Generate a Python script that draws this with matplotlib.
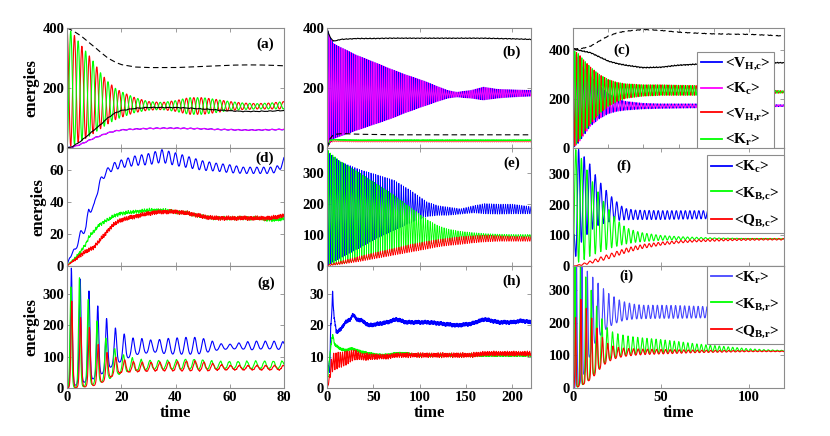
import numpy as np
import matplotlib
matplotlib.use("Agg")
import matplotlib.pyplot as plt

plt.rcParams['font.family'] = ['Liberation Serif', 'DejaVu Serif']
plt.rcParams['font.weight'] = 'bold'
plt.rcParams['mathtext.fontset'] = 'custom'
plt.rcParams['mathtext.rm'] = 'Liberation Serif:bold'
plt.rcParams['mathtext.it'] = 'Liberation Serif:bold'
plt.rcParams['mathtext.bf'] = 'Liberation Serif:bold'

BLUE, MAG, RED, GREEN, BLACK, LBLUE = '#0000ff', '#ff00ff', '#ff0000', '#00ff00', '#000000', '#4646ff'

# ---------------- data (envelopes / levels) ----------------
# (a)
A_T = [0, 2, 5, 8, 10, 12, 15, 18, 20, 25, 30, 35, 40, 45, 50, 55, 60, 65, 70, 75, 80]
A_RG_UP = [400, 385, 345, 310, 285, 255, 222, 198, 188, 168, 155, 152, 158, 168, 168, 162, 155, 150, 148, 150, 155]
A_RG_LO = [0, 10, 22, 38, 50, 62, 80, 95, 102, 118, 126, 128, 122, 112, 112, 118, 125, 128, 130, 130, 130]
A_DASH = [400, 392, 375, 352, 338, 322, 300, 285, 278, 270, 268, 268, 268, 270, 272, 274, 276, 277, 277, 276, 274]
A_SOLID = [0, 5, 22, 45, 60, 75, 100, 118, 125, 132, 135, 135, 135, 133, 130, 127, 124, 122, 122, 123, 125]
A_BM = [0, 3, 12, 25, 33, 40, 50, 57, 60, 63, 65, 66, 66, 65, 64, 62, 61, 60, 60, 61, 62]
A_PERIOD = 2.75

# (b)
B_T = [0, 3, 7, 15, 32, 50, 68, 85, 104, 120, 130, 140, 155, 169, 183, 200, 220]
B_BM_UP = [400, 370, 348, 335, 309, 287, 264, 244, 224, 204, 192, 186, 192, 203, 196, 194, 192]
B_BM_LO = [0, 15, 31, 40, 59, 78, 97, 118, 139, 156, 166, 170, 166, 160, 166, 170, 173]
B_SOLID = [400, 370, 356, 362, 365, 365, 366, 366, 366, 366, 366, 366, 366, 366, 365, 364, 362]
B_DASH = [0, 30, 45, 48, 46, 45, 44, 44, 44, 44, 44, 44, 44, 44, 44, 44, 44]
B_GREEN = [0, 25, 28, 27, 26, 26, 26, 26, 26, 26, 26, 26, 26, 26, 26, 26, 26]
B_RED = [0, 20, 23, 23, 22, 22, 22, 22, 22, 22, 22, 22, 22, 22, 22, 22, 22]
B_PERIOD = 2.3

# (c)
C_T = [0, 3, 6, 10, 15, 20, 25, 30, 40, 50, 60, 70, 80, 90, 100, 110, 120]
C_RG_UP = [400, 385, 360, 330, 300, 280, 268, 262, 258, 258, 256, 255, 252, 248, 242, 237, 233]
C_RG_LO = [0, 25, 60, 100, 140, 170, 190, 203, 212, 215, 215, 215, 216, 218, 220, 222, 225]
C_BM_UP = [400, 370, 330, 295, 255, 222, 200, 190, 182, 180, 180, 180, 180, 179, 178, 177, 176]
C_BM_LO = [0, 20, 50, 90, 120, 140, 150, 155, 160, 162, 163, 164, 165, 166, 167, 168, 170]
C_DASH = [405, 405, 408, 416, 437, 457, 470, 477, 484, 480, 473, 469, 466, 465, 464, 461, 457]
C_SOLID = [405, 400, 395, 389, 372, 355, 345, 338, 328, 330, 338, 342, 346, 347, 348, 348, 348]
C_PERIOD = 2.0

# (d)
D_T = [0, 1, 3, 5, 7, 8, 10, 11, 12, 14, 16, 18, 20, 25, 30, 35, 40, 45, 50, 55, 60, 65, 70, 75, 78, 80]
D_BLUE = [0, 6, 10, 20, 24, 35, 37, 46, 52, 58, 61, 63, 64, 66, 67, 69, 67, 65, 63, 62, 61, 60, 60, 60, 61, 66]
D_BLUE_AMP = [0, 1, 1.5, 2, 2, 2, 2, 2, 2, 2, 2, 2.5, 2.5, 3, 3.5, 4, 4, 3.5, 3, 2.5, 2.5, 2, 2, 2, 2, 2]
D_GREEN = [0, 2, 5, 9, 14, 18, 22, 24, 26, 28, 30, 32, 33, 34, 35, 35, 34, 33, 31, 30, 30, 30, 30, 29, 29, 30]
D_RED = [0, 1.5, 4, 7, 9, 10, 12, 14, 16, 20, 24, 27, 29, 31, 33, 34, 34, 33, 31, 30, 30, 30, 30, 30, 31, 32]
D_PERIOD = 2.5

# (e)
E_T = [0, 2, 14, 36, 54, 72, 90, 108, 120, 130, 144, 158, 170, 185, 200, 220]
E_B_UP = [350, 365, 338, 311, 295, 278, 245, 207, 195, 191, 185, 195, 202, 200, 200, 192]
E_B_LO = [0, 5, 25, 60, 90, 115, 140, 160, 164, 164, 168, 172, 169, 168, 169, 169]
E_G_UP = [380, 370, 340, 300, 265, 230, 190, 150, 130, 120, 112, 108, 105, 103, 102, 102]
E_G_LO = [0, 3, 8, 22, 35, 48, 60, 70, 76, 80, 85, 88, 90, 90, 90, 90]
E_R_UP = [0, 5, 15, 32, 45, 57, 70, 80, 86, 90, 95, 98, 100, 98, 96, 95]
E_R_LO = [0, 1, 5, 15, 25, 35, 45, 55, 62, 66, 70, 75, 78, 80, 80, 80]
E_PERIOD = 2.5

# (f)
F_T = [0, 1, 3, 6, 9, 12, 15, 18, 21, 24, 27, 30, 35, 40, 50, 60, 70, 80, 90, 100, 110, 120]
F_B_UP = [60, 200, 383, 360, 340, 305, 277, 254, 232, 215, 198, 188, 183, 182, 181, 181, 181, 181, 181, 180, 178, 176]
F_B_LO = [0, 20, 60, 90, 110, 125, 135, 140, 145, 148, 150, 151, 152, 152, 152, 153, 154, 155, 156, 158, 162, 166]
F_G_UP = [385, 385, 370, 340, 300, 265, 235, 205, 180, 158, 140, 126, 115, 108, 100, 96, 94, 92, 91, 90, 90, 89]
F_G_LO = [0, 5, 12, 20, 30, 38, 45, 52, 58, 63, 68, 72, 77, 80, 84, 86, 87, 88, 88, 88, 88, 88]
F_R_UP = [0, 1, 4, 9, 15, 21, 28, 34, 40, 46, 52, 58, 65, 71, 78, 83, 86, 88, 89, 90, 90, 90]
F_R_LO = [0, 0, 1, 3, 7, 11, 15, 20, 25, 31, 37, 43, 51, 58, 68, 75, 79, 81, 83, 84, 85, 85]
F_PERIOD_T = [0, 20, 30, 120]
F_PERIOD = [3.2, 3.1, 2.6, 2.5]

# (g)
G_T = [0, 1.6, 4.9, 8.2, 11.3, 14.5, 17.8, 21, 24.3, 28, 32, 36, 40, 44, 48, 52, 56, 60, 64, 68, 72, 76, 80]
G_B_UP = [0, 383, 348, 309, 263, 223, 192, 173, 160, 158, 152, 158, 160, 162, 162, 155, 142, 140, 145, 150, 150, 150, 148]
G_B_LO = [0, 5, 14, 24, 35, 56, 77, 88, 105, 110, 115, 110, 108, 108, 108, 115, 122, 125, 125, 122, 125, 125, 122]
G_G_UP = [0, 375, 350, 275, 210, 157, 125, 105, 95, 90, 88, 88, 90, 92, 92, 88, 85, 85, 85, 86, 86, 86, 86]
G_G_LO = [0, 0, 2, 8, 15, 25, 40, 50, 55, 58, 60, 60, 60, 60, 60, 60, 62, 62, 62, 62, 62, 62, 62]
G_R_UP = [0, 280, 226, 194, 141, 115, 99, 90, 85, 82, 82, 82, 84, 86, 86, 80, 75, 72, 72, 72, 72, 72, 72]
G_R_LO = [0, 0, 2, 5, 10, 25, 45, 50, 52, 53, 55, 55, 55, 55, 55, 55, 58, 58, 58, 58, 58, 58, 58]
G_SHARP = [2.5, 2.5, 2.5, 2.3, 2.0, 1.8, 1.5, 1.2, 1.0, 0.8, 0.6, 0.5, 0.5, 0.5, 0.5, 0.5, 0.5, 0.5, 0.5, 0.5, 0.5, 0.5, 0.5]
G_PERIOD = 3.25

# (h)
H_T = [0, 1, 2, 3, 4, 5, 6, 7, 8, 10, 12, 15, 20, 25, 28, 32, 38, 45, 55, 65, 75, 85, 95, 110, 125, 140, 155, 170, 185, 200, 210, 220]
H_BLUE = [9, 8, 6, 5, 20, 23, 31, 25, 22, 18, 18, 19, 21, 22, 23.5, 22, 21.5, 20, 20.5, 21, 22, 21, 21, 21, 20.5, 20, 20.5, 22, 21, 21, 21.5, 21]
H_GREEN = [2, 4, 7, 10, 13, 15, 17, 16, 14, 13.5, 13, 12.5, 12, 12.5, 12.5, 12, 11.5, 11, 10.5, 10.5, 11, 11, 10.5, 10.5, 10.5, 10.5, 10.5, 10.5, 10.5, 10.5, 10.5, 10.5]
H_RED = [0.5, 1, 2, 4, 6, 7, 8, 8.5, 8.5, 8.5, 9, 9, 9.5, 10, 10.5, 10.5, 10, 10, 10, 10, 10.5, 10.5, 10.5, 10.5, 10.5, 10.5, 10.5, 11, 11, 11, 11, 11]
H_RED_AMP = [0, 0, 0.5, 1, 2, 2.5, 2.5, 2.5, 2.5, 2.5, 2.5, 2.3, 2, 1.8, 1.5, 1.2, 1, 0.8, 0.6, 0.5, 0.5, 0.5, 0.5, 0.5, 0.5, 0.5, 0.5, 0.5, 0.5, 0.5, 0.5, 0.5]
H_PERIOD = 2.4

# (i)
I_T = [0, 2, 5, 8, 11, 14, 17, 20, 23, 26, 30, 35, 40, 50, 60, 70, 80, 90, 100, 110, 120]
I_B_UP = [0, 380, 370, 358, 340, 322, 305, 290, 280, 270, 262, 256, 253, 253, 252, 250, 248, 245, 242, 238, 235]
I_B_LO = [0, 0, 20, 70, 120, 150, 170, 185, 195, 202, 208, 211, 212, 213, 213, 214, 215, 218, 222, 226, 230]
I_G_UP = [380, 380, 370, 330, 290, 240, 205, 180, 170, 165, 160, 156, 153, 148, 142, 135, 130, 125, 120, 117, 115]
I_G_LO = [0, 2, 8, 20, 35, 55, 72, 85, 92, 97, 100, 103, 105, 107, 109, 110, 111, 112, 112, 113, 113]
I_R_UP = [0, 300, 265, 240, 210, 180, 152, 135, 128, 124, 121, 120, 119, 118, 117, 116, 115, 115, 114, 114, 113]
I_R_LO = [0, 2, 8, 18, 30, 50, 68, 80, 88, 93, 97, 100, 102, 104, 106, 108, 109, 110, 111, 111, 111]
I_SHARP = [3, 3, 3, 2.5, 2, 1.5, 1.2, 1, 0.8, 0.6, 0.5, 0.4, 0.3, 0.3, 0.3, 0.3, 0.3, 0.3, 0.3, 0.3, 0.3]
I_PERIOD_T = [0, 25, 40, 120]
I_PERIOD = [3.1, 3.0, 2.6, 2.5]

LEG_C = [r'<V$_{\mathrm{H{,}c}}$>', r'<K$_{\mathrm{c}}$>', r'<V$_{\mathrm{H{,}r}}$>', r'<K$_{\mathrm{r}}$>']
LEG_F = [r'<K$_{\mathrm{c}}$>', r'<K$_{\mathrm{B{,}c}}$>', r'<Q$_{\mathrm{B{,}c}}$>']
LEG_I = [r'<K$_{\mathrm{r}}$>', r'<K$_{\mathrm{B{,}r}}$>', r'<Q$_{\mathrm{B{,}r}}$>']

# ---------------- helpers ----------------
def phase(t, per_t, per):
    p = np.interp(t, per_t, per)
    dt = np.diff(t, prepend=t[0])
    return 2 * np.pi * np.cumsum(dt / p)

def wave(ph, k):
    k = np.maximum(k, 1e-3)
    return (np.exp(k * (np.cos(ph) - 1)) - np.exp(-2 * k)) / (1 - np.exp(-2 * k))

def band(t, kt, up, lo, ph, shift=0.0, sharp=None):
    u = np.interp(t, kt, up)
    l = np.interp(t, kt, lo)
    k = 1e-3 if sharp is None else np.interp(t, kt, sharp)
    return l + (u - l) * wave(ph + shift, k)

def texture(t, s):
    return (0.5 * np.sin(7.31 * t + s) + 0.3 * np.sin(13.7 * t + 2.1 * s)
            + 0.2 * np.sin(23.3 * t + 3.7 * s))

# ---------------- figure ----------------
W, H = 830, 436
fig = plt.figure(figsize=(W / 100, H / 100), dpi=100)
cols = [(67, 284), (327, 531), (573, 784)]
rows = [(28, 148), (148, 266), (266, 388)]

def make_ax(r, c):
    x0, x1 = cols[c]
    y0, y1 = rows[r]
    ax = fig.add_axes([x0 / W, 1 - y1 / H, (x1 - x0) / W, (y1 - y0) / H])
    for s in ax.spines.values():
        s.set_color('#8c8c8c')
        s.set_linewidth(0.8)
    ax.tick_params(direction='in', length=3, width=0.6, color='#8c8c8c', top=True, right=True,
                   labelsize=10.5, pad=2)
    return ax

def add_legend(ax, handles, labels, anchor, spacing):
    leg = ax.legend(handles, labels, loc='upper left', bbox_to_anchor=anchor, fontsize=11,
                    handlelength=1.4, handletextpad=0.15, labelspacing=spacing, borderpad=0.25,
                    borderaxespad=0, fancybox=False, framealpha=1, edgecolor='#8c8c8c')
    leg.get_frame().set_linewidth(0.8)
    for ln in leg.get_lines():
        ln.set_linewidth(1.3)
    return leg

lw = 0.8
axs = {}
# (a)
ax = make_ax(0, 0); axs['a'] = ax
t = np.linspace(0, 80, 6000)
ph = phase(t, [0, 80], [A_PERIOD, A_PERIOD])
bm = np.interp(t, A_T, A_BM)
ax.plot(t, bm + 1.5 * np.sin(ph * 1.1), color=BLUE, lw=lw)
ax.plot(t, bm + 1.0 * np.sin(ph * 1.1 + 1), color=MAG, lw=lw)
ax.plot(t, band(t, A_T, A_RG_UP, A_RG_LO, ph), color=RED, lw=lw)
ax.plot(t, band(t, A_T, A_RG_UP, A_RG_LO, ph, np.pi), color=GREEN, lw=lw)
ax.plot(t, np.interp(t, A_T, A_SOLID) + 1.5 * texture(t * 0.3, 1), color=BLACK, lw=lw)
ax.plot(t, np.interp(t, A_T, A_DASH), color=BLACK, lw=lw, ls=(0, (5, 3)))
ax.set_xlim(0, 80); ax.set_ylim(0, 400)
ax.set_xticks([0, 20, 40, 60, 80]); ax.set_yticks([0, 200, 400])

# (b)
ax = make_ax(0, 1); axs['b'] = ax
t = np.linspace(0, 220, 16000)
ph = phase(t, [0, 220], [B_PERIOD, B_PERIOD])
ax.plot(t, band(t, B_T, B_BM_UP, B_BM_LO, ph, np.pi), color=BLUE, lw=0.6)
ax.plot(t, band(t, B_T, B_BM_UP, B_BM_LO, ph), color=MAG, lw=0.6)
ax.plot(t, np.interp(t, B_T, B_RED) + 2 * np.cos(ph), color=RED, lw=lw, alpha=0.6)
ax.plot(t, np.interp(t, B_T, B_GREEN) + 0.8 * texture(t, 2), color=GREEN, lw=lw)
ax.plot(t, np.interp(t, B_T, B_SOLID) + 1.5 * texture(t * 0.2, 3), color=BLACK, lw=lw)
ax.plot(t, np.interp(t, B_T, B_DASH), color=BLACK, lw=lw, ls=(0, (5, 3)))
ax.set_xlim(0, 220); ax.set_ylim(0, 400)
ax.set_xticks([0, 100, 200]); ax.set_yticks([0, 200, 400])

# (c)
ax = make_ax(0, 2); axs['c'] = ax
t = np.linspace(0, 120, 9000)
ph = phase(t, [0, 120], [C_PERIOD, C_PERIOD])
l1, = ax.plot(t, band(t, C_T, C_BM_UP, C_BM_LO, ph, 0.4), color=BLUE, lw=lw)
l2, = ax.plot(t, band(t, C_T, C_BM_UP, C_BM_LO, ph, np.pi + 0.4), color=MAG, lw=lw)
l3, = ax.plot(t, band(t, C_T, C_RG_UP, C_RG_LO, ph), color=RED, lw=lw)
l4, = ax.plot(t, band(t, C_T, C_RG_UP, C_RG_LO, ph, np.pi), color=GREEN, lw=lw)
ax.plot(t, np.interp(t, C_T, C_SOLID) + 2.5 * texture(t * 0.5, 4), color=BLACK, lw=lw)
ax.plot(t, np.interp(t, C_T, C_DASH) + 1.5 * texture(t * 0.5, 5), color=BLACK, lw=lw, ls=(0, (5, 3)))
ax.set_xlim(0, 120); ax.set_ylim(0, 490)
ax.set_xticks([0, 20, 40, 60, 80, 100, 120]); ax.set_yticks([0, 200, 400])
add_legend(ax, [l1, l2, l3, l4], LEG_C, (0.588, 0.80), 0.6)

# (d)
ax = make_ax(1, 0); axs['d'] = ax
t = np.linspace(0, 80, 6000)
ph = phase(t, [0, 80], [D_PERIOD, D_PERIOD])
ax.plot(t, np.interp(t, D_T, D_BLUE) + np.interp(t, D_T, D_BLUE_AMP) * np.cos(ph), color=BLUE, lw=lw)
ax.plot(t, np.interp(t, D_T, D_GREEN) + 1.3 * texture(t, 6) * np.minimum(t / 5, 1), color=GREEN, lw=lw)
ax.plot(t, np.interp(t, D_T, D_RED) + 1.5 * texture(t * 1.3, 7) * np.minimum(t / 5, 1), color=RED, lw=lw)
ax.set_xlim(0, 80); ax.set_ylim(0, 74)
ax.set_xticks([0, 20, 40, 60, 80]); ax.set_yticks([0, 20, 40, 60])

# (e)
ax = make_ax(1, 1); axs['e'] = ax
t = np.linspace(0, 220, 16000)
ph = phase(t, [0, 220], [E_PERIOD, E_PERIOD])
ax.plot(t, band(t, E_T, E_B_UP, E_B_LO, ph), color=BLUE, lw=0.6)
ax.plot(t, band(t, E_T, E_G_UP, E_G_LO, ph, np.pi), color=GREEN, lw=0.6)
ax.plot(t, band(t, E_T, E_R_UP, E_R_LO, ph), color=RED, lw=0.6)
ax.set_xlim(0, 220); ax.set_ylim(0, 382)
ax.set_xticks([0, 100, 200]); ax.set_yticks([0, 100, 200, 300])

# (f)
ax = make_ax(1, 2); axs['f'] = ax
t = np.linspace(0, 120, 9000)
ph = phase(t, F_PERIOD_T, F_PERIOD)
m1, = ax.plot(t, band(t, F_T, F_B_UP, F_B_LO, ph), color=BLUE, lw=lw)
m2, = ax.plot(t, band(t, F_T, F_G_UP, F_G_LO, ph, np.pi), color=GREEN, lw=lw)
m3, = ax.plot(t, band(t, F_T, F_R_UP, F_R_LO, ph), color=RED, lw=lw)
ax.set_xlim(0, 120); ax.set_ylim(0, 386)
ax.set_xticks([0, 50, 100]); ax.set_yticks([0, 100, 200, 300])
add_legend(ax, [m1, m2, m3], LEG_F, (0.635, 0.94), 0.7)

# (g)
ax = make_ax(2, 0); axs['g'] = ax
t = np.linspace(0, 80, 6000)
ph = phase(t, [0, 80], [G_PERIOD, G_PERIOD]) - 2 * np.pi * 1.6 / G_PERIOD
ax.plot(t, band(t, G_T, G_B_UP, G_B_LO, ph, 0, G_SHARP), color=BLUE, lw=lw)
ax.plot(t, band(t, G_T, G_G_UP, G_G_LO, ph, 0.5, G_SHARP) + 2 * texture(t, 8) * (t > 15), color=GREEN, lw=lw)
ax.plot(t, band(t, G_T, G_R_UP, G_R_LO, ph, -0.3, G_SHARP) + 2 * texture(t * 1.2, 9) * (t > 15), color=RED, lw=lw)
ax.set_xlim(0, 80); ax.set_ylim(0, 390)
ax.set_xticks([0, 20, 40, 60, 80]); ax.set_yticks([0, 100, 200, 300])

# (h)
ax = make_ax(2, 1); axs['h'] = ax
t = np.linspace(0, 220, 16000)
ph = phase(t, [0, 220], [H_PERIOD, H_PERIOD])
ax.plot(t, np.interp(t, H_T, H_BLUE) + 0.7 * texture(t * 0.8, 10), color=BLUE, lw=lw)
ax.plot(t, np.interp(t, H_T, H_GREEN) + 0.45 * texture(t * 0.9, 11), color=GREEN, lw=lw)
ax.plot(t, np.interp(t, H_T, H_RED) + np.interp(t, H_T, H_RED_AMP) * np.cos(ph)
        + 0.35 * texture(t, 12), color=RED, lw=lw)
ax.set_xlim(0, 220); ax.set_ylim(0, 39)
ax.set_xticks([0, 50, 100, 150, 200]); ax.set_yticks([0, 10, 20, 30])

# (i)
ax = make_ax(2, 2); axs['i'] = ax
t = np.linspace(0, 120, 9000)
ph = phase(t, I_PERIOD_T, I_PERIOD) - 2 * np.pi * 2.0 / 3.1
n1, = ax.plot(t, band(t, I_T, I_B_UP, I_B_LO, ph, 0, I_SHARP), color=LBLUE, lw=lw)
n2, = ax.plot(t, band(t, I_T, I_G_UP, I_G_LO, ph, 1.8, I_SHARP), color=GREEN, lw=lw)
n3, = ax.plot(t, band(t, I_T, I_R_UP, I_R_LO, ph, 1.2, I_SHARP), color=RED, lw=lw)
ax.set_xlim(0, 120); ax.set_ylim(0, 373)
ax.set_xticks([0, 50, 100]); ax.set_yticks([0, 100, 200, 300])
add_legend(ax, [n1, n2, n3], LEG_I, (0.635, 1.0), 0.7)

# tick labels only on bottom row
for k in ['a', 'b', 'c', 'd', 'e', 'f']:
    axs[k].tick_params(labelbottom=False)
for k in ['g', 'h', 'i']:
    axs[k].set_xlabel('time', fontsize=12, fontweight='bold', labelpad=1)
for k in ['a', 'd', 'g']:
    axs[k].set_ylabel('energies', fontsize=12, fontweight='bold', labelpad=2)

labels = {'a': (265, 44), 'b': (512, 52), 'c': (622, 50), 'd': (265, 158), 'e': (512, 163),
          'f': (624, 166), 'g': (266, 283), 'h': (512, 281), 'i': (626, 276)}
for k, (x, y) in labels.items():
    fig.text(x / W, 1 - y / H, '(%s)' % k, fontsize=11, fontweight='bold', ha='center', va='center')

fig.savefig('out.png', dpi=100)
